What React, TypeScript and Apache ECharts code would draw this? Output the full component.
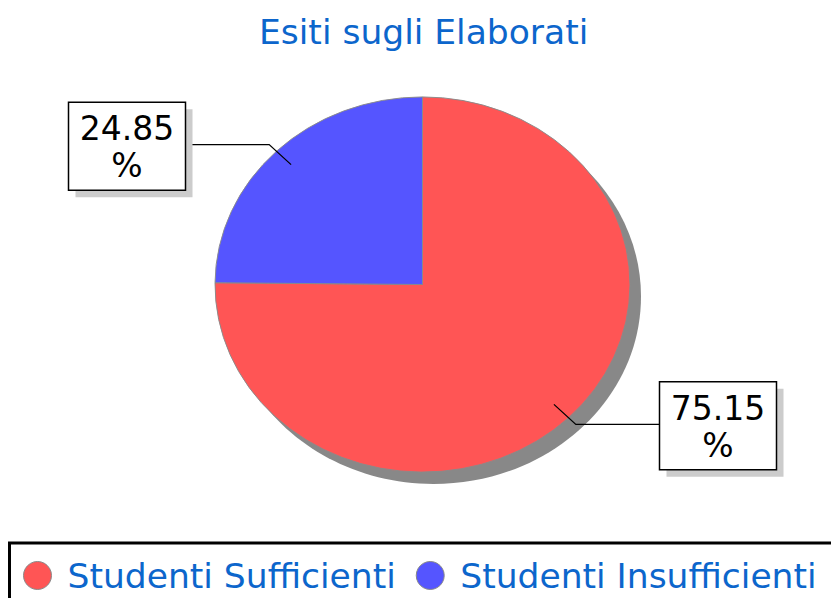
import React, { useEffect, useRef } from "react";
import * as echarts from "echarts";

const categories = ["Studenti Sufficienti", "Studenti Insufficienti"];
const values = [75.15, 24.85];
const colors = ["#ff5555", "#5555ff"];
const titleText = "Esiti sugli Elaborati";

const FONT = '"DejaVu Sans", sans-serif';
const BLUE_TEXT = "#0c66cc";

export default function App() {
  const ref = useRef<HTMLDivElement>(null);
  useEffect(() => {
    document.body.style.margin = "0";
    const chart = echarts.init(ref.current!, null, { renderer: "svg" });
    const total = values.reduce((a, b) => a + b, 0);
    const cx = 422.5,
      cy = 284.5,
      rx = 207.5,
      ry = 187.5;

    const renderItem = (params: any, api: any) => {
      const i = params.seriesIndex;
      let cum = 0;
      for (let k = 0; k < i; k++) cum += values[k];
      const v = api.value(0);
      const a0 = -Math.PI / 2 + (2 * Math.PI * cum) / total;
      const a1 = a0 + (2 * Math.PI * v) / total;
      const mid = (a0 + a1) / 2;
      const c = Math.cos(mid),
        s = Math.sin(mid);
      const p1 = [cx + c * rx * 0.9, cy + s * ry * 0.9];
      const p2 = [cx + c * rx * 1.05, cy + s * ry * 1.05];
      const right = c >= 0;
      const boxW = 117,
        boxH = 88;
      const edgeX = right ? cx + 237 : cx - 237;
      const p3 = [edgeX, p2[1]];
      const boxX = right ? edgeX : edgeX - boxW;
      const boxY = p2[1] + 1.5 - boxH / 2;
      const children: any[] = [];
      if (i === 0) {
        children.push({
          type: "ellipse",
          shape: { cx: cx + 11, cy: cy + 12, rx, ry },
          style: { fill: "#888888" },
        });
      }
      children.push({
        type: "group",
        x: cx,
        y: cy,
        scaleY: ry / rx,
        children: [
          {
            type: "sector",
            shape: { cx: 0, cy: 0, r: rx, r0: 0, startAngle: a0, endAngle: a1, clockwise: true },
            style: { fill: colors[i], stroke: "#8a8a8a", lineWidth: 1, strokeNoScale: true },
          },
        ],
      });
      children.push({
        type: "polyline",
        shape: { points: [p1, p2, p3] },
        style: { stroke: "#000", lineWidth: 1.3, fill: null },
      });
      children.push({
        type: "rect",
        shape: { x: boxX + 7, y: boxY + 7, width: boxW, height: boxH },
        style: { fill: "#cccccc" },
      });
      children.push({
        type: "rect",
        shape: { x: boxX, y: boxY, width: boxW, height: boxH },
        style: { fill: "#ffffff", stroke: "#000", lineWidth: 1.5 },
      });
      children.push({
        type: "text",
        x: boxX + boxW / 2,
        y: boxY + boxH / 2 + 1,
        style: {
          text: v.toFixed(2) + "\n%",
          fill: "#000",
          fontSize: 33,
          fontFamily: FONT,
          align: "center",
          verticalAlign: "middle",
          lineHeight: 37,
        },
      });
      return { type: "group", children };
    };

    chart.setOption({
      animation: false,
      title: {
        text: titleText,
        left: 259,
        top: 14,
        padding: 0,
        textStyle: { fontSize: 34.5, fontWeight: "normal", color: BLUE_TEXT, fontFamily: FONT },
      },
      legend: {
        data: categories,
        left: 23,
        top: 558,
        padding: 0,
        icon: "circle",
        itemWidth: 30,
        itemHeight: 28,
        itemGap: 20,
        itemStyle: { borderColor: "#888", borderWidth: 1 },
        textStyle: { fontSize: 34.5, color: BLUE_TEXT, fontFamily: FONT, padding: [0, 0, 0, 10] },
      },
      graphic: [
        {
          type: "rect",
          shape: { x: 9.5, y: 543, width: 1000, height: 200 },
          style: { fill: null, stroke: "#000", lineWidth: 3 },
          silent: true,
        },
      ],
      series: categories.map((name, i) => ({
        type: "custom",
        name,
        coordinateSystem: "none",
        itemStyle: { color: colors[i] },
        data: [{ value: values[i], name }],
        renderItem,
      })),
    });
    return () => chart.dispose();
  }, []);
  return <div ref={ref} style={{ width: 831, height: 598 }} />;
}
